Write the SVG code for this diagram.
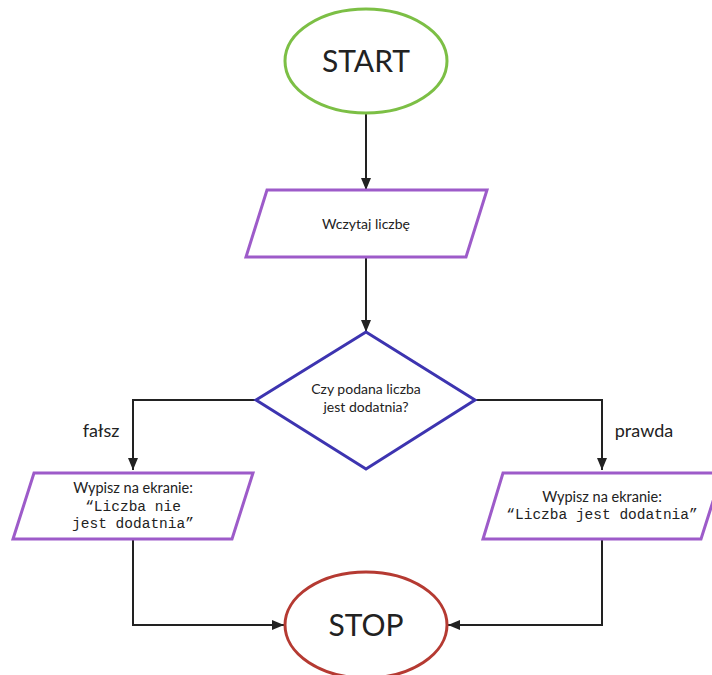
<svg xmlns="http://www.w3.org/2000/svg" width="712" height="675" viewBox="0 0 712 675">
<defs>
<style>
.t{font-family:Lato,"Open Sans","Liberation Sans",sans-serif;fill:#222;text-anchor:middle}
.m{font-family:"Liberation Mono","DejaVu Sans Mono",monospace;fill:#222;text-anchor:middle;font-size:14.5px}
.io{fill:#fff;stroke:#9d5bc9;stroke-width:3}
.c{fill:none;stroke:#222;stroke-width:2}
</style>
<marker id="ah" viewBox="0 0 12 10" refX="12" refY="5" markerWidth="12" markerHeight="10" markerUnits="userSpaceOnUse" orient="auto">
<path d="M0,0 L12,5 L0,10 Z" fill="#222"/>
</marker>
</defs>
<rect width="712" height="675" fill="#fff"/>
<g id="connectors">
<path class="c" d="M366,113 V190" marker-end="url(#ah)"/>
<path class="c" d="M366,257 V332" marker-end="url(#ah)"/>
<path class="c" d="M256,400 H133 V470" marker-end="url(#ah)"/>
<path class="c" d="M475,400 H602 V470" marker-end="url(#ah)"/>
<path class="c" d="M133,539 V625 H284" marker-end="url(#ah)"/>
<path class="c" d="M602,539 V625 H448" marker-end="url(#ah)"/>
<text class="t" x="101" y="437" font-size="18">fałsz</text>
<text class="t" x="644" y="437" font-size="18">prawda</text>
</g>
<g id="start">
<ellipse cx="366" cy="61" rx="81" ry="52" fill="#fff" stroke="#7cbf45" stroke-width="3"/>
<text class="t" x="366" y="72" font-size="30">START</text>
</g>
<g id="input">
<polygon class="io" points="267,190 487,190 466,257 246,257"/>
<text class="t" x="366" y="229" font-size="14">Wczytaj liczbę</text>
</g>
<g id="decision">
<polygon points="366,332 475,400 366,469 256,400" fill="#fff" stroke="#3d34b0" stroke-width="3"/>
<text class="t" x="366" y="394" font-size="14">Czy podana liczba</text>
<text class="t" x="366" y="412" font-size="14">jest dodatnia?</text>
</g>
<g id="out-false">
<polygon class="io" points="34,473 253,473 232,539 13,539"/>
<text class="t" x="133" y="493" font-size="14.5">Wypisz na ekranie:</text>
<text class="m" x="133" y="511">“Liczba nie</text>
<text class="m" x="133" y="528">jest dodatnia”</text>
</g>
<g id="out-true">
<polygon class="io" points="503,473 722,473 701,539 483,539"/>
<text class="t" x="602" y="502" font-size="14.5">Wypisz na ekranie:</text>
<text class="m" x="602" y="519">“Liczba jest dodatnia”</text>
</g>
<g id="stop">
<ellipse cx="366" cy="625" rx="81" ry="53" fill="#fff" stroke="#b53a32" stroke-width="3"/>
<text class="t" x="366" y="636" font-size="30">STOP</text>
</g>
</svg>
